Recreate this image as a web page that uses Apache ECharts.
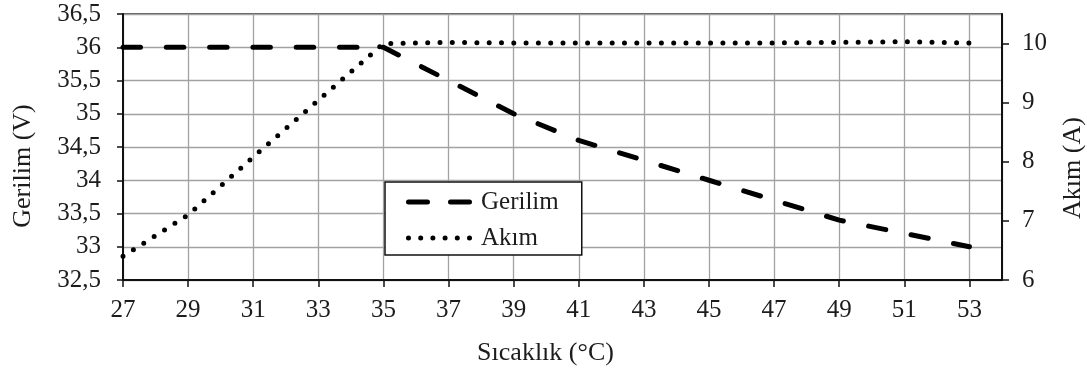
<!DOCTYPE html>
<html>
<head>
<meta charset="utf-8">
<script src="https://cdn.jsdelivr.net/npm/echarts@6/dist/echarts.min.js"></script>
<style>
  html, body { margin: 0; padding: 0; background: #fff; }
  #chart { width: 1087px; height: 372px; }
</style>
</head>
<body>
<div id="chart"></div>
<script>
// Temperature (°C) on the x axis
const temperature = [27, 29, 31, 33, 35, 37, 39, 41, 43, 45, 47, 49, 51, 53];
// Voltage (V), left axis
const gerilim = [36, 36, 36, 36, 36, 35.5, 35.0, 34.6, 34.3, 34.0, 33.7, 33.4, 33.2, 33.0];
// Current (A), right axis
const akim = [6.4, 7.1, 8.08, 9.04, 10.0, 10.02, 10.01, 10.01, 10.01, 10.01, 10.01, 10.02, 10.03, 10.01];

const seriesNames = ['Gerilim', 'Akım'];
const axisTitles = { x: 'Sıcaklık (°C)', left: 'Gerilim (V)', right: 'Akım (A)' };

const FONT = '"Liberation Serif", "DejaVu Serif", serif';
const INK = '#1c1c1c';
const GRID_GRAY = '#a2a2a2';
const comma = v => String(v).replace('.', ',');

const pairs = arr => temperature.map((t, i) => [t, arr[i]]);

// Legend swatches: two rounded dashes and a row of round dots (66 x 5 box)
const dash = (x0, x1, r) =>
  `M${x0 + r} 0 H${x1 - r} A${r} ${r} 0 0 1 ${x1 - r} ${2 * r} H${x0 + r} A${r} ${r} 0 0 1 ${x0 + r} 0 Z `;
const dot = (cx, r) =>
  `M${cx - r} ${r} A${r} ${r} 0 1 0 ${cx + r} ${r} A${r} ${r} 0 1 0 ${cx - r} ${r} Z `;
const dashedIcon = 'path://' + dash(0, 24, 2.5) + dash(42, 66, 2.5);
const dottedIcon = 'path://' + [2.5, 14.7, 26.9, 39.1, 51.3, 63.5].map(c => dot(c, 2.5)).join('');

const chart = echarts.init(document.getElementById('chart'), null, { renderer: 'canvas' });

const axisText = { fontFamily: FONT, fontSize: 25, color: INK };
const nameText = { fontFamily: FONT, fontSize: 26, color: INK };

chart.setOption({
  backgroundColor: '#ffffff',
  animation: false,
  grid: {
    left: 123, right: 85, top: 14, bottom: 92,
    containLabel: false, outerBoundsMode: 'none',
    show: true, borderColor: '#222', borderWidth: 1.5, backgroundColor: 'transparent'
  },
  legend: {
    data: [
      { name: seriesNames[0], icon: dashedIcon },
      { name: seriesNames[1], icon: dottedIcon }
    ],
    orient: 'vertical',
    left: 385, top: 182,
    backgroundColor: '#fff',
    borderColor: '#111', borderWidth: 1.5, borderRadius: 0,
    padding: [5, 23, 2, 21],
    itemWidth: 66, itemHeight: 5, itemGap: 6,
    itemStyle: { color: '#000', borderWidth: 0 },
    textStyle: { fontFamily: FONT, fontSize: 25, lineHeight: 30, color: INK, padding: [0, 0, 0, 4] }
  },
  xAxis: {
    type: 'value',
    min: 27, max: 54, interval: 2,
    name: axisTitles.x,
    nameLocation: 'middle', nameGap: 60,
    nameTextStyle: Object.assign({ padding: [0, 34, 0, 0] }, nameText),
    axisLine: { lineStyle: { color: '#111', width: 2 } },
    axisTick: { show: true, length: 7, lineStyle: { color: '#111', width: 1.5 } },
    axisLabel: Object.assign({ margin: 18, showMaxLabel: false }, axisText),
    splitLine: { show: true, lineStyle: { color: GRID_GRAY, width: 1.3 } }
  },
  yAxis: [
    {
      type: 'value', position: 'left',
      min: 32.5, max: 36.5, interval: 0.5,
      name: axisTitles.left,
      nameLocation: 'middle', nameGap: 87, nameRotate: 90,
      nameTextStyle: Object.assign({ padding: [0, 38, 0, 0] }, nameText),
      axisLine: { show: true, lineStyle: { color: '#111', width: 2 } },
      axisTick: { show: true, length: 6, lineStyle: { color: '#111', width: 1.5 } },
      axisLabel: Object.assign({ margin: 22, formatter: comma }, axisText),
      splitLine: { show: true, lineStyle: { color: GRID_GRAY, width: 1.3 } }
    },
    {
      type: 'value', position: 'right',
      min: 6, max: 10.5, interval: 1,
      name: axisTitles.right,
      nameLocation: 'middle', nameGap: 58, nameRotate: 90,
      nameTextStyle: Object.assign({ padding: [0, 42, 0, 0] }, nameText),
      axisLine: { show: true, lineStyle: { color: '#111', width: 2 } },
      axisTick: { show: true, length: 7, lineStyle: { color: '#111', width: 1.5 } },
      axisLabel: Object.assign({ margin: 20, showMaxLabel: false, formatter: comma }, axisText),
      splitLine: { show: false }
    }
  ],
  series: [
    {
      name: seriesNames[0], type: 'line', yAxisIndex: 0,
      data: pairs(gerilim),
      symbol: 'none', color: '#000', z: 3,
      lineStyle: { color: '#000', width: 5, type: [17.5, 25.8], cap: 'round' }
    },
    {
      name: seriesNames[1], type: 'line', yAxisIndex: 1,
      data: pairs(akim),
      symbol: 'none', color: '#000', z: 2,
      lineStyle: { color: '#000', width: 5, type: [0, 12.3], cap: 'round' }
    }
  ]
});
</script>
</body>
</html>
